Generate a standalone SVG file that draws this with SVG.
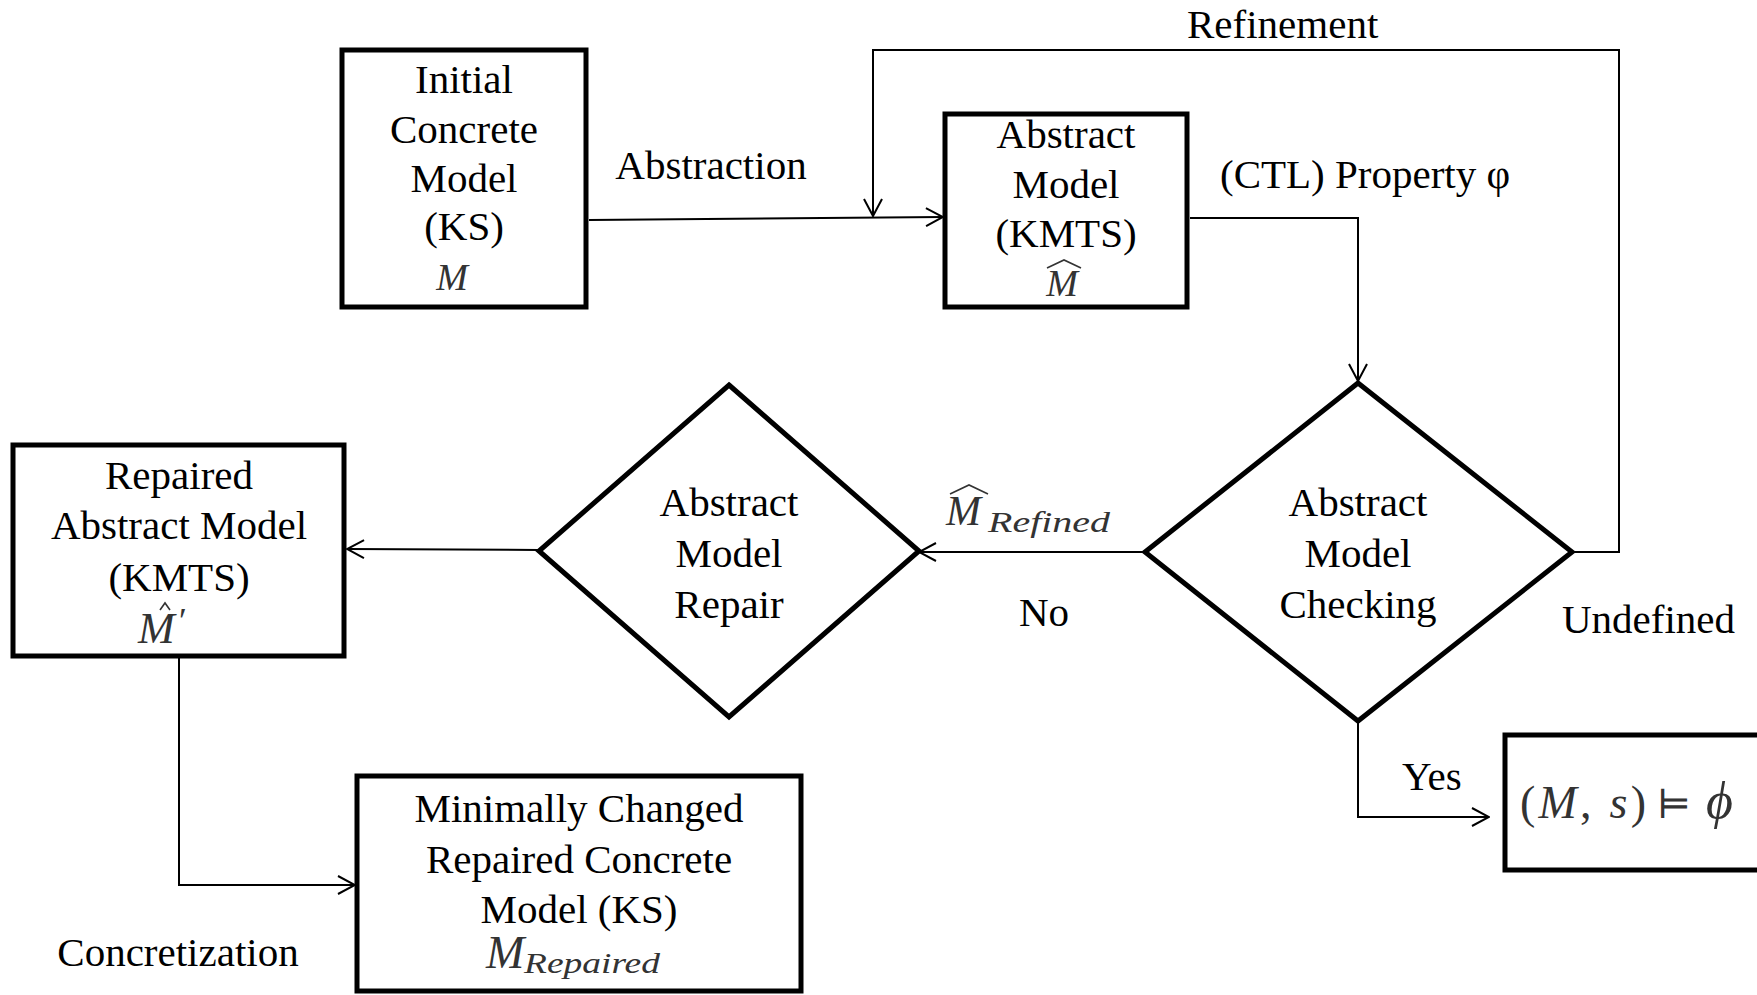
<svg xmlns="http://www.w3.org/2000/svg" width="1757" height="995" viewBox="0 0 1757 995">
  <style>
    .box { fill: #fff; stroke: #000; stroke-width: 5; }
    .dia { fill: #fff; stroke: #000; stroke-width: 5; stroke-linejoin: miter; }
    .conn { fill: none; stroke: #000; stroke-width: 2; }
    .hat { fill: none; stroke: #333; stroke-width: 1.6; stroke-linejoin: miter; }
    .t { font-family: "Liberation Serif", "Times New Roman", serif; font-size: 41px; fill: #000; text-anchor: middle; }
    .ts { font-family: "Liberation Serif", "Times New Roman", serif; font-size: 41px; fill: #000; }
    .m { font-family: "Liberation Serif", "DejaVu Serif", serif; font-style: italic; fill: #333; }
    .up { font-style: normal; }
  </style>
  <defs>
    <marker id="arrow" viewBox="0 0 20 20" refX="19" refY="10" markerWidth="20" markerHeight="20" markerUnits="userSpaceOnUse" orient="auto">
      <path d="M2,1 L19,10 L2,19" fill="none" stroke="#000" stroke-width="2"/>
    </marker>
  </defs>

  <rect width="1757" height="995" fill="#fff"/>

  <!-- connectors -->
  <g id="connectors">
    <path class="conn" d="M589,220 L943,217" marker-end="url(#arrow)"/>
    <path class="conn" d="M1572,552 H1619 V50 H873 V216" marker-end="url(#arrow)"/>
    <path class="conn" d="M1190,218 H1358 V381" marker-end="url(#arrow)"/>
    <path class="conn" d="M1145,552 H919" marker-end="url(#arrow)"/>
    <path class="conn" d="M539,550 L347,549" marker-end="url(#arrow)"/>
    <path class="conn" d="M179,658 V885 H355" marker-end="url(#arrow)"/>
    <path class="conn" d="M1358,722 V817 H1489" marker-end="url(#arrow)"/>
  </g>

  <!-- edge labels -->
  <g id="labels">
    <text class="t" x="711" y="179">Abstraction</text>
    <text class="ts" x="1187" y="38">Refinement</text>
    <text class="ts" x="1220" y="188">(CTL) Property φ</text>
    <g id="m-refined">
      <text class="m" x="946" y="525" font-size="42">M</text>
      <polyline class="hat" points="950,494 969,485 988,494"/>
      <text class="m" x="988" y="532" font-size="29" textLength="122" lengthAdjust="spacingAndGlyphs">Refined</text>
    </g>
    <text class="t" x="1044" y="626">No</text>
    <text class="ts" x="1562" y="633">Undefined</text>
    <text class="ts" x="1402" y="790">Yes</text>
    <text class="t" x="178" y="966">Concretization</text>
  </g>

  <!-- Initial concrete model -->
  <g id="initial">
    <rect class="box" x="342" y="50" width="244" height="257"/>
    <text class="t" x="464" y="93">Initial</text>
    <text class="t" x="464" y="143">Concrete</text>
    <text class="t" x="464" y="192">Model</text>
    <text class="t" x="464" y="240">(KS)</text>
    <text class="m" x="452" y="290" font-size="38" text-anchor="middle">M</text>
  </g>

  <!-- Abstract model -->
  <g id="abstract">
    <rect class="box" x="945" y="114" width="242" height="193"/>
    <text class="t" x="1066" y="148">Abstract</text>
    <text class="t" x="1066" y="198">Model</text>
    <text class="t" x="1066" y="247">(KMTS)</text>
    <text class="m" x="1062" y="296" font-size="38" text-anchor="middle">M</text>
    <polyline class="hat" points="1047,268 1064,260 1081,268"/>
  </g>

  <!-- Abstract model checking -->
  <g id="checking">
    <polygon class="dia" points="1358,383 1572,552 1358,721 1145,552"/>
    <text class="t" x="1358" y="516">Abstract</text>
    <text class="t" x="1358" y="567">Model</text>
    <text class="t" x="1358" y="618">Checking</text>
  </g>

  <!-- Abstract model repair -->
  <g id="repair">
    <polygon class="dia" points="729,385 919,551 729,717 539,551"/>
    <text class="t" x="729" y="516">Abstract</text>
    <text class="t" x="729" y="567">Model</text>
    <text class="t" x="729" y="618">Repair</text>
  </g>

  <!-- Repaired abstract model -->
  <g id="repaired">
    <rect class="box" x="13" y="445" width="331" height="211"/>
    <text class="t" x="179" y="489">Repaired</text>
    <text class="t" x="179" y="539">Abstract Model</text>
    <text class="t" x="179" y="591">(KMTS)</text>
    <text class="m" x="138" y="643" font-size="44">M<tspan font-size="36" dx="2" dy="-10">′</tspan></text>
    <polyline class="hat" points="160,610 165,603 170,610"/>
  </g>

  <!-- Minimally changed repaired concrete model -->
  <g id="minimal">
    <rect class="box" x="357" y="776" width="444" height="215"/>
    <text class="t" x="579" y="822">Minimally Changed</text>
    <text class="t" x="579" y="873">Repaired Concrete</text>
    <text class="t" x="579" y="923">Model (KS)</text>
    <text class="m" x="486" y="968" font-size="46">M</text>
    <text class="m" x="524" y="973" font-size="29" textLength="136" lengthAdjust="spacingAndGlyphs">Repaired</text>
  </g>

  <!-- Result -->
  <g id="result">
    <rect class="box" x="1505" y="735" width="270" height="135"/>
    <text class="m" x="1520" y="818" font-size="46" textLength="126" lengthAdjust="spacing"><tspan class="up">(</tspan>M<tspan class="up">, </tspan>s<tspan class="up">)</tspan></text>
    <text class="m up" x="1657" y="818" font-size="40">⊨</text>
    <text class="m" x="1706" y="818" font-size="52">ϕ</text>
  </g>
</svg>
